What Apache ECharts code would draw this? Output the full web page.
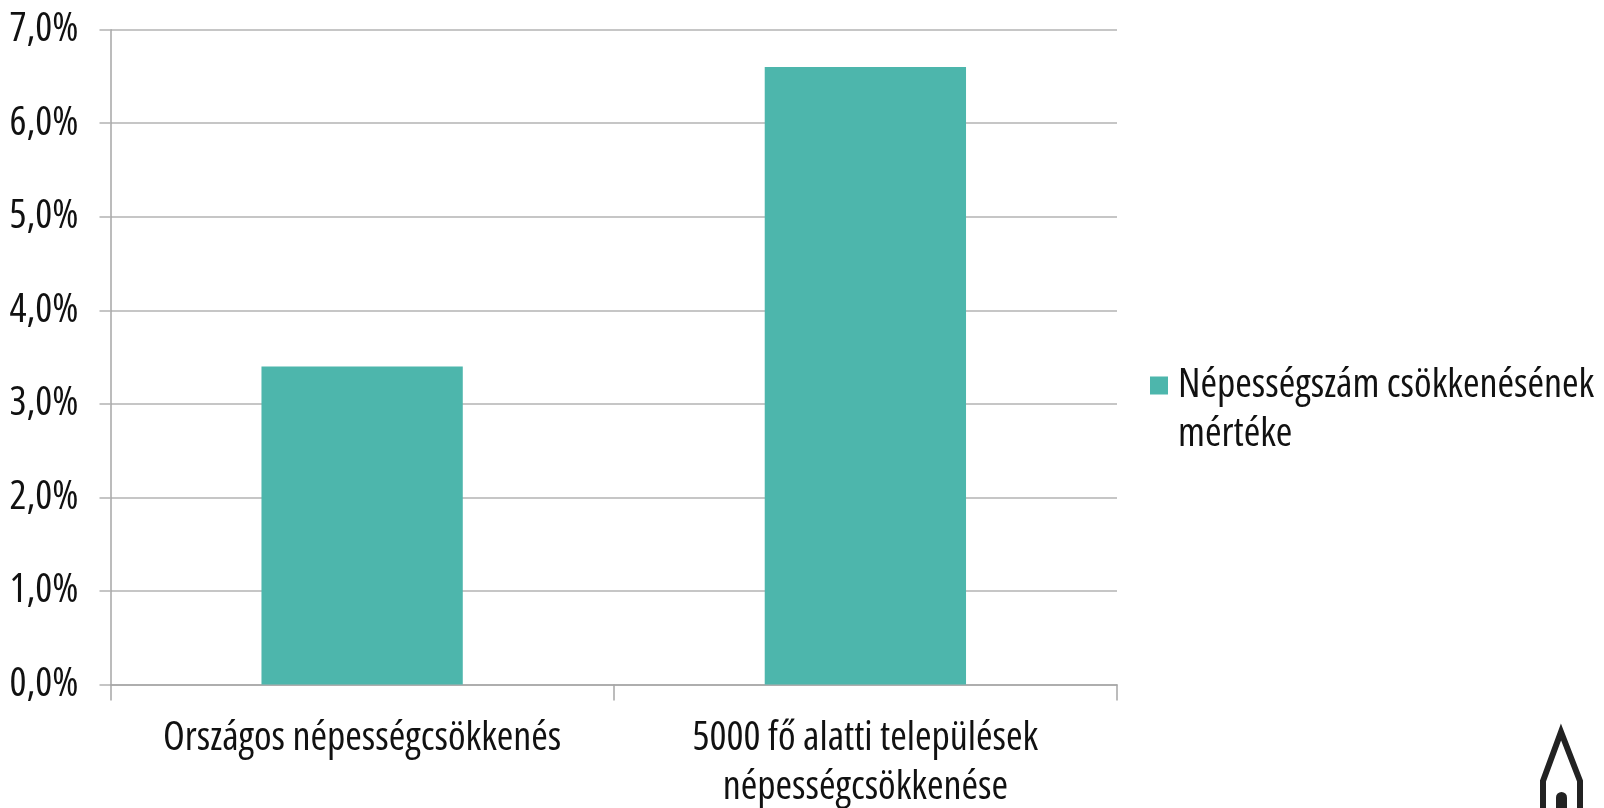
<!DOCTYPE html>
<html>
<head>
<meta charset="utf-8">
<script src="https://cdn.jsdelivr.net/npm/echarts@6/dist/echarts.min.js"></script>
<style>html,body{margin:0;padding:0;background:#fff}#c{width:1604px;height:808px}</style>
</head>
<body>
<div id="c"></div>
<script>
const categories = ['Országos népességcsökkenés', '5000 fő alatti települések\nnépességcsökkenése'];
const seriesName = 'Népességszám csökkenésének\nmértéke';
const values = [3.4, 6.6];
const yMin = 0, yMax = 7, yInterval = 1;

const FONT = '"Open Sans"';
const TXT = {fontFamily: FONT, fontStyle: 'normal', fontWeight: 'condensed', fontSize: 40, color: '#111'};
const chart = echarts.init(document.getElementById('c'), null, {renderer: 'canvas'});
chart.setOption({
  animation: false,
  backgroundColor: '#ffffff',
  grid: {left: 110.5, right: 487, top: 29.7, bottom: 123.6, containLabel: false, outerBoundsMode: 'none'},
  legend: {
    show: true,
    orient: 'vertical',
    left: 1150,
    top: 361,
    padding: 0,
    itemWidth: 23,
    itemHeight: 67,
    icon: 'path://M0,0h18v18h-18zM23,67h0.01',
    textStyle: Object.assign({}, TXT, {lineHeight: 49}),
    data: [seriesName]
  },
  xAxis: {
    type: 'category',
    data: categories,
    axisLine: {show: true, lineStyle: {color: '#a6a6a6', width: 1.5}},
    axisTick: {show: true, length: 16, lineStyle: {color: '#a6a6a6', width: 1.5}},
    axisLabel: Object.assign({}, TXT, {interval: 0, margin: 30, lineHeight: 49, align: 'center'})
  },
  yAxis: {
    type: 'value',
    min: yMin, max: yMax, interval: yInterval,
    axisLine: {show: true, lineStyle: {color: '#a6a6a6', width: 1.5}},
    axisTick: {show: true, length: 11, lineStyle: {color: '#b3b3b3', width: 1.5}},
    splitLine: {show: true, lineStyle: {color: '#b3b3b3', width: 1.5}},
    axisLabel: Object.assign({}, TXT, {margin: 32,
      formatter: v => v.toFixed(1).replace('.', ',') + '%'})
  },
  series: [{
    name: seriesName,
    type: 'bar',
    data: values,
    barWidth: '40%',
    itemStyle: {color: '#4db6ac'}
  }],
  graphic: [
    {type: 'polyline', shape: {points: [[1543, 812], [1543, 781], [1561, 732], [1580, 781], [1580, 812]]},
     style: {stroke: '#222', lineWidth: 6, fill: null, lineJoin: 'miter'}},
    {type: 'rect', shape: {x: 1556, y: 792, width: 11, height: 22, r: 5.5}, style: {fill: '#222'}}
  ]
});
</script>
</body>
</html>
